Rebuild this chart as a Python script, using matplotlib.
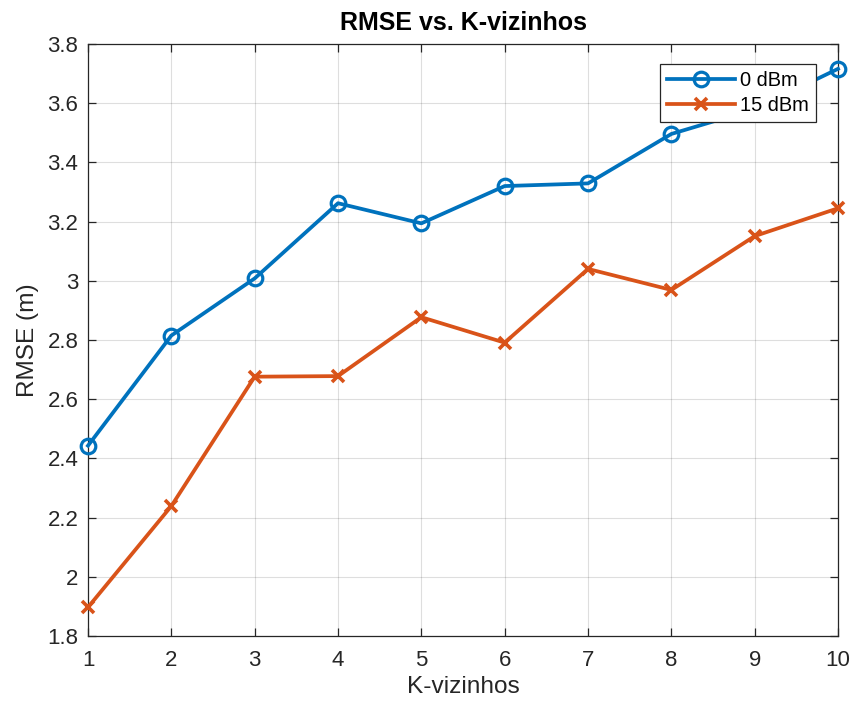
import matplotlib
matplotlib.use("Agg")
import matplotlib.pyplot as plt

k = [1, 2, 3, 4, 5, 6, 7, 8, 9, 10]
rmse_0dbm = [2.443, 2.815, 3.008, 3.262, 3.194, 3.320, 3.329, 3.496, 3.58, 3.716]
rmse_15dbm = [1.897, 2.239, 2.676, 2.678, 2.877, 2.791, 3.040, 2.969, 3.151, 3.245]
labels = ["0 dBm", "15 dBm"]
yticks = [1.8, 2.0, 2.2, 2.4, 2.6, 2.8, 3.0, 3.2, 3.4, 3.6, 3.8]
ytick_labels = ["1.8", "2", "2.2", "2.4", "2.6", "2.8", "3", "3.2", "3.4", "3.6", "3.8"]

plt.rcParams['font.family'] = ['Liberation Sans', 'DejaVu Sans']
dark = '#262626'

fig = plt.figure(figsize=(8.52, 7.08), dpi=100)
ax = fig.add_axes([0.1033, 0.1017, 0.8803, 0.8362])

ax.plot(k, rmse_0dbm, color='#0072BD', lw=2.7, marker='o', ms=10.5, mfc='none', mew=2.3, label=labels[0], clip_on=False, zorder=3)
ax.plot(k, rmse_15dbm, color='#D95319', lw=2.7, marker='x', ms=8.5, mew=2.6, label=labels[1], clip_on=False, zorder=3)

ax.set_xlim(1, 10)
ax.set_ylim(1.8, 3.8)
ax.set_xticks(k)
ax.set_yticks(yticks)
ax.set_yticklabels(ytick_labels)
ax.grid(True, color='#000000', alpha=0.13, lw=0.8)
ax.tick_params(direction='in', top=True, right=True, length=6, width=0.9, colors=dark, labelsize=16, labelcolor=dark)
ax.tick_params(axis='x', pad=10)
ax.tick_params(axis='y', pad=7)
for s in ax.spines.values():
    s.set_color(dark)
    s.set_linewidth(0.9)

ax.set_xlabel('K-vizinhos', fontsize=17.6, color=dark, labelpad=4)
ax.set_ylabel('RMSE (m)', fontsize=17.6, color=dark, labelpad=6)
ax.set_title('RMSE vs. K-vizinhos', fontsize=18, fontweight='bold', color='black', pad=10)

leg = ax.legend(loc='upper right', bbox_to_anchor=(0.9707, 0.966), borderaxespad=0,
                fancybox=False, framealpha=1, edgecolor=dark, fontsize=14.4,
                handlelength=3.4, handletextpad=0.25, borderpad=0.35, labelspacing=0.3)
leg.get_frame().set_linewidth(0.9)

fig.savefig('out.png', dpi=100)
